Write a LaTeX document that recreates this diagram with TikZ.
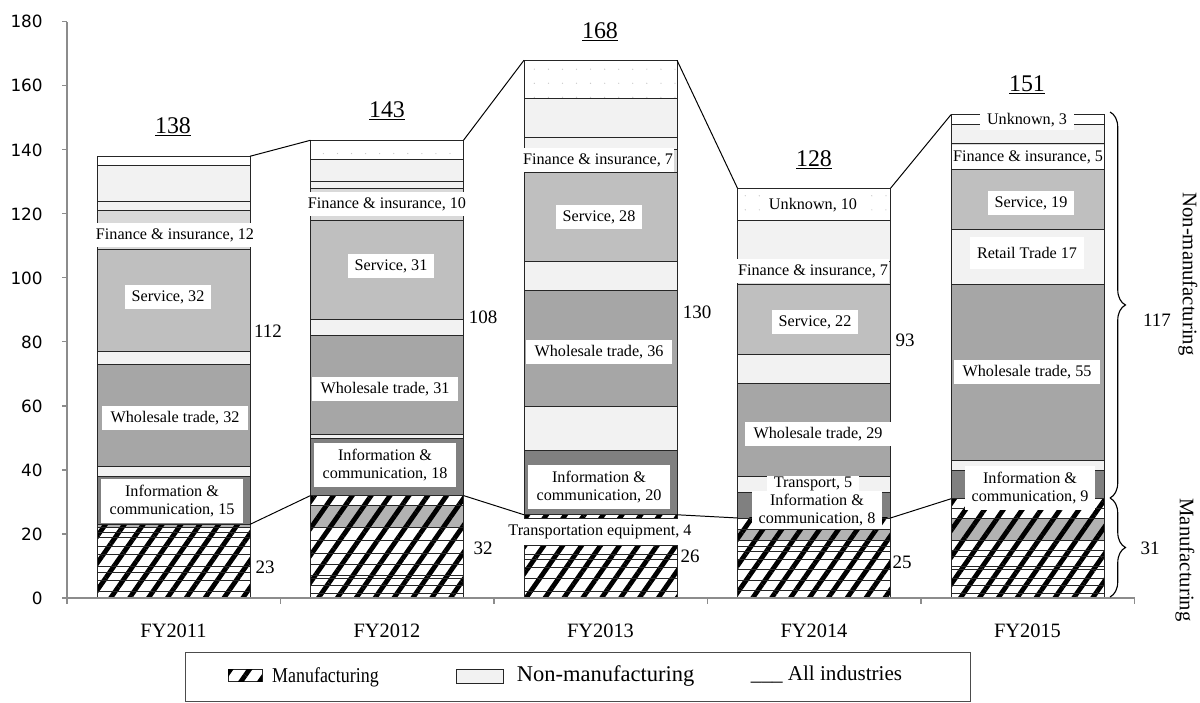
\documentclass[tikz,border=0pt]{standalone}
\usepackage{fontspec}
\setmainfont{Liberation Serif}
\newfontfamily\axisfont{DejaVu Sans}
\usetikzlibrary{patterns.meta,decorations.pathreplacing,positioning}
\newcommand{\lblsize}{\fontsize{11.5}{13.3}\selectfont}
\newcommand{\numsize}{\fontsize{13.5}{15}\selectfont}
\newcommand{\catsize}{\fontsize{14.5}{16}\selectfont}
\newcommand{\totsize}{\fontsize{17}{19}\selectfont}
\newcommand{\ticksize}{\fontsize{12}{14}\selectfont}
\newcommand{\sidesize}{\fontsize{14.7}{16}\selectfont}

\begin{document}
\begin{tikzpicture}[
    x=0.025cm, y=0.025cm,
    seg/.style={draw=black!85, line width=0.6pt},
    unk/.style={seg, preaction={fill=white}, pattern={Dots[distance=10pt, radius=0.45pt]}, pattern color=black!22},
    hatch/.style={pattern={Lines[angle=55, distance=11pt, line width=3.4pt]}, pattern color=black},
    band/.style={fill=black!30, blend mode=multiply},
    lbl/.style={fill=white, inner xsep=5pt, inner ysep=4pt, font=\lblsize, align=center},
    tightlbl/.style={lbl, inner xsep=1pt},
    infolbl/.style={lbl, inner xsep=6pt},
    num/.style={font=\numsize, inner sep=0},
    total/.style={font=\totsize, inner sep=0},
    axisline/.style={draw=black!45, line width=0.8pt},
    conn/.style={draw=black, line width=0.7pt},
    bracket/.style={draw=black, line width=0.8pt, decorate, decoration={brace, amplitude=11pt}}]
\useasboundingbox (0,0) rectangle (1200,702);

\begin{scope}[shift={(67,104)}, y=0.08cm]
\foreach \c/\lo/\hi/\col in {
    106.5/124/135/black!5, 106.5/121/124/black!5, 106.5/109/121/black!15, 106.5/77/109/black!25,
    106.5/73/77/black!5, 106.5/41/73/black!35, 106.5/38/41/black!5, 106.5/23/38/black!50,
    320/130/137/black!5, 320/128/130/black!5, 320/118/128/black!15, 320/87/118/black!25,
    320/82/87/black!5, 320/51/82/black!35, 320/50/51/black!5, 320/32/50/black!50,
    533.5/144/156/black!5, 533.5/140/144/black!5, 533.5/133/140/black!15, 533.5/105/133/black!25,
    533.5/96/105/black!5, 533.5/60/96/black!35, 533.5/46/60/black!5, 533.5/26/46/black!50,
    747/105/118/black!5, 747/98/105/black!15, 747/76/98/black!25, 747/67/76/black!5,
    747/38/67/black!35, 747/33/38/black!5, 747/25/33/black!50,
    960.5/142/148/black!5, 960.5/134/142/black!15, 960.5/115/134/black!25, 960.5/98/115/black!5,
    960.5/43/98/black!35, 960.5/40/43/black!5, 960.5/31/40/black!50}
  \path[seg, fill=\col] (\c-76.5,\lo) rectangle (\c+76.5,\hi);
\foreach \c/\lo/\hi in {106.5/135/138, 320/137/143, 533.5/156/168, 747/118/128, 960.5/148/151}
  \path[unk] (\c-76.5,\lo) rectangle (\c+76.5,\hi);
% manufacturing: white base, hatching, grey bands multiplied on top, then the rules
\foreach \c/\hi in {106.5/23, 320/32, 533.5/26, 747/25, 960.5/31} {
  \path[fill=white] (\c-76.5,0) rectangle (\c+76.5,\hi);
  \path[hatch] (\c-76.5,0) rectangle (\c+76.5,\hi);
}
\foreach \c/\lo/\hi in {106.5/22/23, 320/22/29, 747/18/21.5, 960.5/18/25}
  \path[band] (\c-76.5,\lo) rectangle (\c+76.5,\hi);
\foreach \c/\vlist in {106.5/{2,5.5,8,10,13.5,16,19,20.5,22}, 320/{1.5,4,6,7,10.5,14,18,22,29},
    533.5/{2,6,9.5,12,13.5,16.5,25}, 747/{2.5,5.5,9,12,14.5,16,18,21.5}, 960.5/{1.5,4,6,9,10,13,15,18,25,28}}
  \foreach \v in \vlist
    \path[seg] (\c-76.5,\v) -- (\c+76.5,\v);
\foreach \c/\hi in {106.5/23, 320/32, 533.5/26, 747/25, 960.5/31}
  \path[seg] (\c-76.5,0) rectangle (\c+76.5,\hi);

\foreach \i/\c/\t/\m in {1/106.5/138/23, 2/320/143/32, 3/533.5/168/26, 4/747/128/25, 5/960.5/151/31} {
  \coordinate (topL\i) at (\c-76.5,\t);
  \coordinate (topR\i) at (\c+76.5,\t);
  \coordinate (mfgL\i) at (\c-76.5,\m);
  \coordinate (mfgR\i) at (\c+76.5,\m);
  \node[font=\catsize] (fy\i) at (\c,-10.3) {FY201\i};
}
\foreach \i/\j in {1/2, 2/3, 3/4, 4/5}
  \path[conn] (topR\i) -- (topL\j) (mfgR\i) -- (mfgL\j);

\path[axisline] (0,0) -- (0,180);
\foreach \v in {0,20,...,180} {
  \path[axisline] (-5,\v) -- (0,\v);
  \node[anchor=east, font=\axisfont\ticksize, inner sep=0] (ytick\v) at (-24,\v) {\v};
}
\path[axisline] (0,0) -- (1067.5,0);
\foreach \k in {0,...,5}
  \path[axisline] (213.5*\k,0) -- (213.5*\k,-2);
\end{scope}

\node[tightlbl] (fin11) at (175,467) {Finance \& insurance, 12};
\node[lbl] (srv11) at (168,405) {Service, 32};
\node[infolbl] (whl11) at (175,284) {Wholesale trade, 32};
\node[infolbl] (inf11) at (172,201) {Information \&\\communication, 15};
\node[num] (non11) at (268,371) {112};
\node[num] (man11) at (265,135) {23};
\node[total] (tot11) at (173,575) {\underline{138}};

\node[tightlbl] (fin12) at (387,498) {Finance \& insurance, 10};
\node[lbl] (srv12) at (391,436) {Service, 31};
\node[infolbl] (whl12) at (385,313) {Wholesale trade, 31};
\node[infolbl] (inf12) at (385,237) {Information \&\\communication, 18};
\node[num] (non12) at (483,385) {108};
\node[num] (man12) at (483,154) {32};
\node[total] (tot12) at (387,591) {\underline{143}};

\node[tightlbl] (fin13) at (598,542) {Finance \& insurance, 7};
\node[lbl] (srv13) at (599,485) {Service, 28};
\node[infolbl] (whl13) at (599,350) {Wholesale trade, 36};
\node[infolbl] (inf13) at (599,215) {Information \&\\communication, 20};
\node[tightlbl] (trn13) at (600,170) {Transportation equipment, 4};
\node[num] (non13) at (697,390) {130};
\node[num] (man13) at (690,146) {26};
\node[total] (tot13) at (600,670) {\underline{168}};

\node[lbl] (unk14) at (813,497) {Unknown, 10};
\node[tightlbl] (fin14) at (813,431) {Finance \& insurance, 7};
\node[lbl] (srv14) at (815,380) {Service, 22};
\node[infolbl] (whl14) at (818,268) {Wholesale trade, 29};
\node[lbl, inner ysep=2pt] (inf14) at (817,192) {Information \&\\communication, 8};
\node[lbl, inner ysep=1pt] (trp14) at (813,218) {Transport, 5};
\node[num] (non14) at (905,362) {93};
\node[num] (man14) at (902,140) {25};
\node[total] (tot14) at (814,542) {\underline{128}};

\node[lbl, inner ysep=2pt] (unk15) at (1027,582) {Unknown, 3};
\node[tightlbl] (fin15) at (1028,545) {Finance \& insurance, 5};
\node[lbl] (srv15) at (1031,499) {Service, 19};
\node[lbl, inner ysep=7pt] (rtl15) at (1027,449) {Retail Trade 17};
\node[infolbl] (whl15) at (1027,330) {Wholesale trade, 55};
\node[lbl] (inf15) at (1030,214) {Information \&\\communication, 9};
\node[total] (tot15) at (1027,617) {\underline{151}};

\coordinate (brTop) at (1110,590);
\coordinate (brMid) at (1110,204);
\coordinate (brBot) at (1110,105);
\path[bracket] (brTop) -- (brMid);
\path[bracket] (brMid) -- (brBot);
\node[num] (non15) at (1157,382) {117};
\node[num] (man15) at (1150,154) {31};
\node[rotate=-90, font=\sidesize] (nonside) at (1188,428) {Non-manufacturing};
\node[rotate=-90, font=\sidesize] (manside) at (1185,142) {Manufacturing};

\path[draw=black!70, line width=0.6pt] (185,1) rectangle (970,50);
\path[fill=white, draw=black!85, line width=0.6pt] (228,21) rectangle (262,33);
\path[hatch] (228,21) rectangle (262,33);
\node[anchor=west, font=\fontsize{15}{17}\selectfont, xscale=0.85] (legmfg) at (268,25) {Manufacturing};
\path[seg, fill=black!5] (456,19) rectangle (503,33);
\node[anchor=west, font=\fontsize{16}{18}\selectfont] (legnon) at (512,26) {Non-manufacturing};
\node[anchor=west, font=\fontsize{15}{17}\selectfont] (legall) at (746,27) {\_\_\_\ All industries};
\end{tikzpicture}
\end{document}
